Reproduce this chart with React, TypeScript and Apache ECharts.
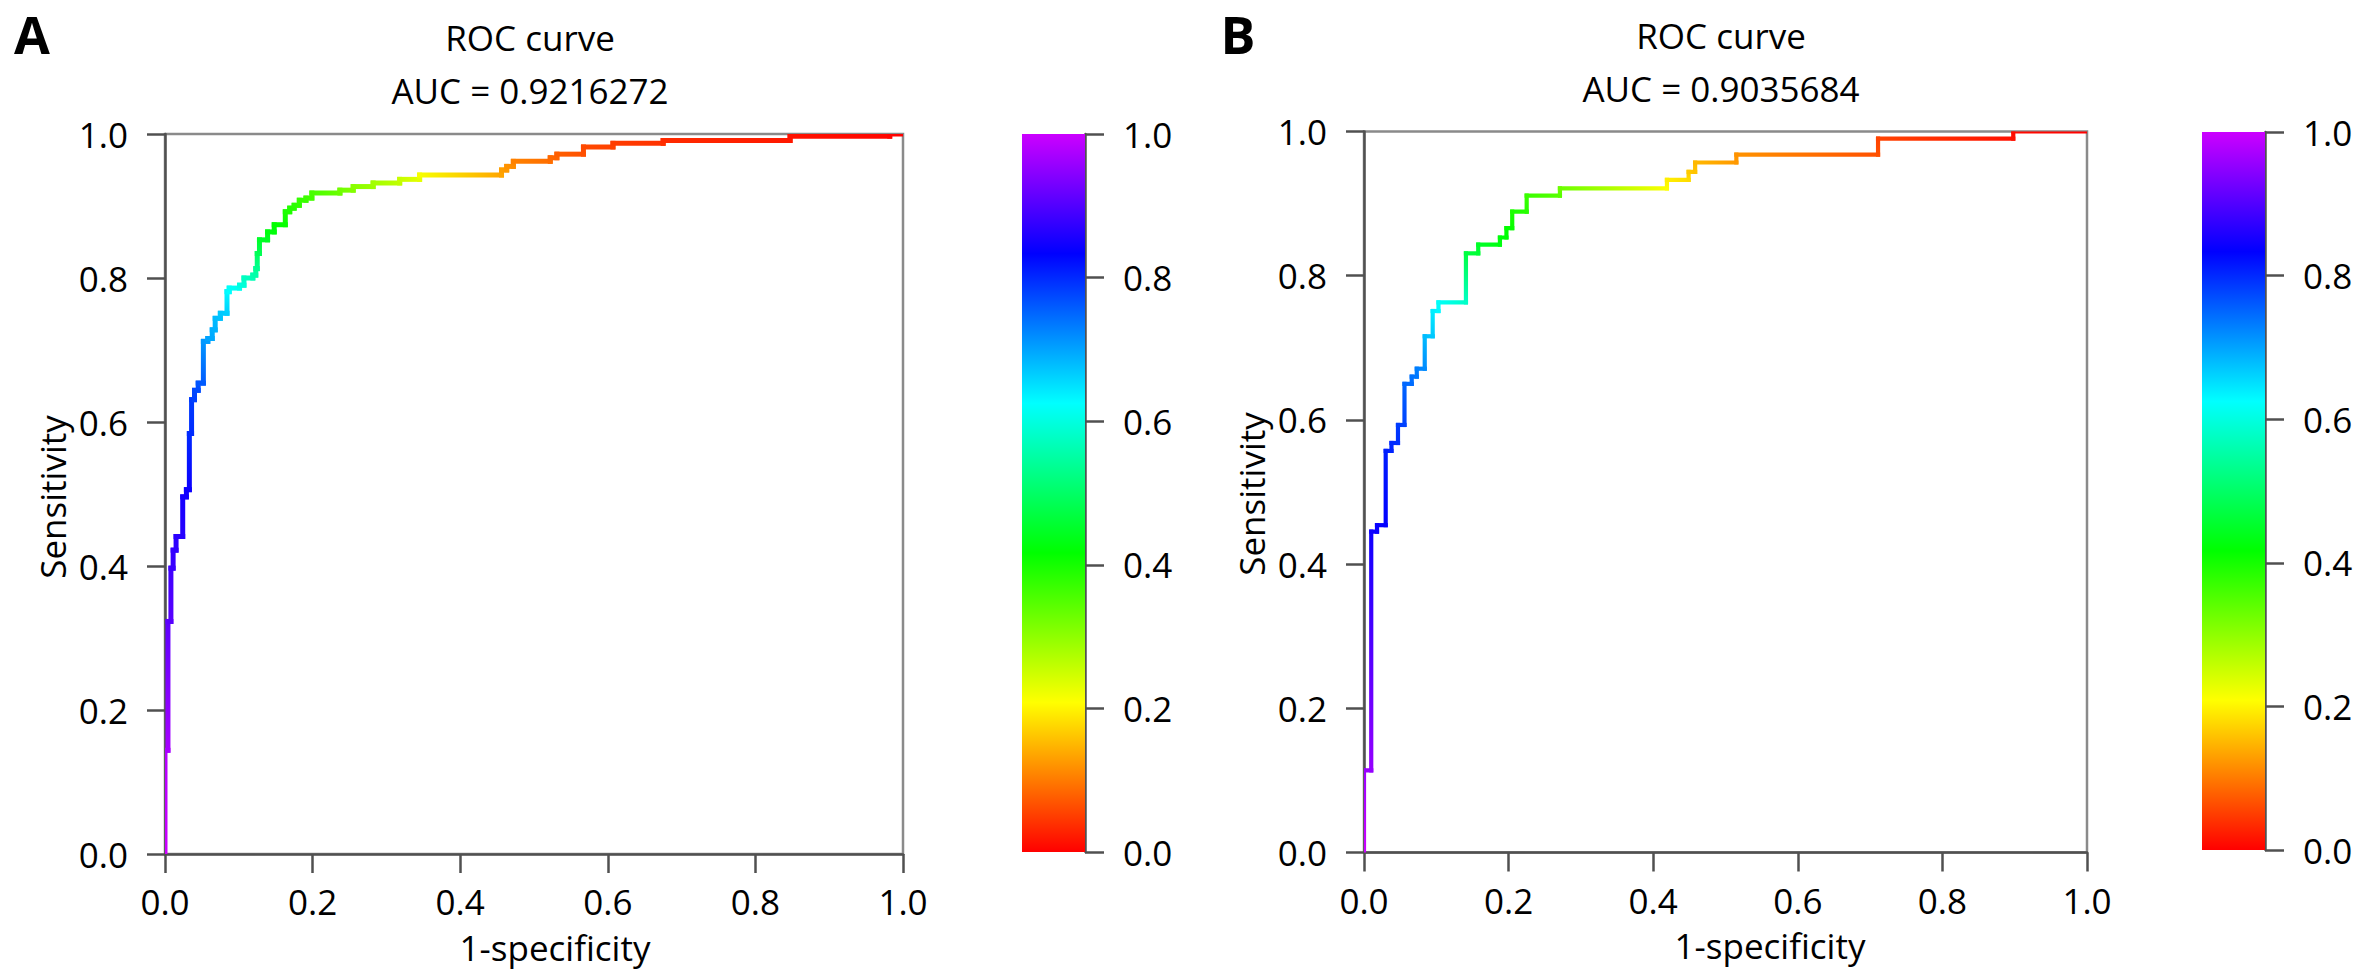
import React, { useEffect, useRef } from "react";
import * as echarts from "echarts";

// ---------- data ----------
const panelLetters = ["A", "B"];
const titleText = "ROC curve";
const aucTexts = ["AUC = 0.9216272", "AUC = 0.9035684"];
const xAxisName = "1-specificity";
const yAxisName = "Sensitivity";

// Panel A: ROC vertices (false positive rate, true positive rate, cutoff)
const fprA = [0, 0, 0.004, 0.004, 0.008, 0.008, 0.011, 0.011, 0.015, 0.015, 0.024, 0.024, 0.029, 0.029, 0.033, 0.033, 0.036, 0.036, 0.040, 0.040, 0.045, 0.045, 0.052, 0.052, 0.058, 0.058, 0.064, 0.064, 0.068, 0.068, 0.075, 0.075, 0.084, 0.084, 0.087, 0.087, 0.101, 0.101, 0.107, 0.107, 0.119, 0.119, 0.123, 0.123, 0.125, 0.125, 0.128, 0.128, 0.139, 0.139, 0.148, 0.148, 0.163, 0.163, 0.169, 0.169, 0.175, 0.175, 0.182, 0.182, 0.191, 0.191, 0.199, 0.199, 0.237, 0.237, 0.255, 0.255, 0.282, 0.282, 0.318, 0.318, 0.345, 0.345, 0.456, 0.456, 0.463, 0.463, 0.472, 0.472, 0.522, 0.522, 0.531, 0.531, 0.567, 0.567, 0.607, 0.607, 0.675, 0.675, 0.847, 0.847, 0.982, 0.982, 1.0];
const tprA = [0, 0.144, 0.144, 0.323, 0.323, 0.397, 0.397, 0.422, 0.422, 0.441, 0.441, 0.496, 0.496, 0.506, 0.506, 0.584, 0.584, 0.631, 0.631, 0.644, 0.644, 0.654, 0.654, 0.712, 0.712, 0.716, 0.716, 0.728, 0.728, 0.744, 0.744, 0.751, 0.751, 0.781, 0.781, 0.786, 0.786, 0.790, 0.790, 0.800, 0.800, 0.804, 0.804, 0.813, 0.813, 0.834, 0.834, 0.853, 0.853, 0.864, 0.864, 0.874, 0.874, 0.892, 0.892, 0.897, 0.897, 0.901, 0.901, 0.908, 0.908, 0.911, 0.911, 0.918, 0.918, 0.922, 0.922, 0.927, 0.927, 0.932, 0.932, 0.937, 0.937, 0.943, 0.943, 0.950, 0.950, 0.955, 0.955, 0.962, 0.962, 0.967, 0.967, 0.972, 0.972, 0.982, 0.982, 0.987, 0.987, 0.991, 0.991, 0.997, 0.997, 1.0, 1.0];
const cutA = [1.0, 0.98, 0.97, 0.91, 0.905, 0.885, 0.88, 0.875, 0.872, 0.868, 0.865, 0.85, 0.848, 0.845, 0.843, 0.80, 0.798, 0.785, 0.78, 0.775, 0.772, 0.765, 0.76, 0.71, 0.705, 0.70, 0.695, 0.69, 0.688, 0.68, 0.675, 0.67, 0.665, 0.63, 0.625, 0.62, 0.61, 0.60, 0.595, 0.575, 0.565, 0.56, 0.555, 0.54, 0.535, 0.49, 0.485, 0.45, 0.445, 0.43, 0.425, 0.415, 0.41, 0.395, 0.392, 0.388, 0.385, 0.382, 0.378, 0.374, 0.37, 0.366, 0.362, 0.358, 0.33, 0.325, 0.31, 0.305, 0.29, 0.285, 0.26, 0.255, 0.23, 0.215, 0.135, 0.13, 0.125, 0.12, 0.115, 0.105, 0.09, 0.085, 0.082, 0.078, 0.066, 0.06, 0.054, 0.05, 0.04, 0.035, 0.02, 0.015, 0.005, 0.003, 0.0];

// Panel B
const fprB = [0, 0, 0.010, 0.010, 0.018, 0.018, 0.030, 0.030, 0.038, 0.038, 0.047, 0.047, 0.056, 0.056, 0.066, 0.066, 0.073, 0.073, 0.084, 0.084, 0.095, 0.095, 0.103, 0.103, 0.141, 0.141, 0.158, 0.158, 0.188, 0.188, 0.197, 0.197, 0.205, 0.205, 0.225, 0.225, 0.271, 0.271, 0.419, 0.419, 0.449, 0.449, 0.458, 0.458, 0.515, 0.515, 0.711, 0.711, 0.898, 0.898, 1.0];
const tprB = [0, 0.114, 0.114, 0.445, 0.445, 0.454, 0.454, 0.557, 0.557, 0.568, 0.568, 0.593, 0.593, 0.650, 0.650, 0.660, 0.660, 0.671, 0.671, 0.716, 0.716, 0.751, 0.751, 0.763, 0.763, 0.831, 0.831, 0.843, 0.843, 0.853, 0.853, 0.866, 0.866, 0.889, 0.889, 0.911, 0.911, 0.921, 0.921, 0.933, 0.933, 0.944, 0.944, 0.957, 0.957, 0.968, 0.968, 0.990, 0.990, 1.0, 1.0];
const cutB = [1.0, 0.96, 0.955, 0.845, 0.842, 0.838, 0.835, 0.81, 0.805, 0.80, 0.795, 0.785, 0.78, 0.75, 0.745, 0.74, 0.735, 0.73, 0.72, 0.68, 0.67, 0.64, 0.63, 0.62, 0.58, 0.47, 0.46, 0.45, 0.43, 0.425, 0.42, 0.415, 0.41, 0.395, 0.385, 0.37, 0.345, 0.33, 0.21, 0.195, 0.18, 0.165, 0.16, 0.15, 0.125, 0.12, 0.065, 0.055, 0.012, 0.008, 0.0];

// ---------- helpers ----------
const FONT = "'Open Sans', 'DejaVu Sans', sans-serif";
const AXIS_COLOR = "#505050";
const FRAME_COLOR = "#8a8a8a";

function cutColor(c: number): string {
  const h = Math.max(0, Math.min(1, c)) * 288;
  const hp = h / 60;
  const x = 1 - Math.abs((hp % 2) - 1);
  let r = 0, g = 0, b = 0;
  if (hp < 1) { r = 1; g = x; }
  else if (hp < 2) { r = x; g = 1; }
  else if (hp < 3) { g = 1; b = x; }
  else if (hp < 4) { g = x; b = 1; }
  else if (hp < 5) { r = x; b = 1; }
  else { r = 1; b = x; }
  return `rgb(${Math.round(r * 255)},${Math.round(g * 255)},${Math.round(b * 255)})`;
}

function segments(f: number[], t: number[], c: number[]) {
  const out: number[][] = [];
  for (let i = 0; i < f.length - 1; i++) out.push([f[i], t[i], f[i + 1], t[i + 1], c[i], c[i + 1]]);
  return out;
}

function rocSeries(idx: number, data: number[][], width: number) {
  return {
    type: "custom",
    xAxisIndex: idx,
    yAxisIndex: idx,
    clip: true,
    silent: true,
    z: 5,
    encode: { x: [0, 2], y: [1, 3] },
    data,
    renderItem: (params: any, api: any) => {
      const p1 = api.coord([api.value(0), api.value(1)]);
      const p2 = api.coord([api.value(2), api.value(3)]);
      const c1 = cutColor(api.value(4));
      const c2 = cutColor(api.value(5));
      return {
        type: "line",
        shape: { x1: p1[0], y1: p1[1], x2: p2[0], y2: p2[1] },
        style: {
          stroke: {
            type: "linear", x: p1[0], y: p1[1], x2: p2[0], y2: p2[1], global: true,
            colorStops: [{ offset: 0, color: c1 }, { offset: 1, color: c2 }],
          },
          lineWidth: width,
          lineCap: "square",
        },
      };
    },
  };
}

const fmt = (v: number) => v.toFixed(1);

function plotAxes(idx: number) {
  const line = { show: true, onZero: false, lineStyle: { color: AXIS_COLOR, width: 2.5 } };
  return {
    x: {
      gridIndex: idx, type: "value", min: 0, max: 1, interval: 0.2,
      axisLine: line,
      axisTick: { show: true, inside: false, length: 19, lineStyle: { color: AXIS_COLOR, width: 2.5 } },
      axisLabel: { fontSize: 35, color: "#000", fontFamily: FONT, margin: 30, formatter: fmt },
      splitLine: { show: false },
    },
    y: {
      gridIndex: idx, type: "value", min: 0, max: 1, interval: 0.2,
      axisLine: line,
      axisTick: { show: true, inside: false, length: 18, lineStyle: { color: AXIS_COLOR, width: 2.5 } },
      axisLabel: { fontSize: 35, color: "#000", fontFamily: FONT, margin: 37, formatter: fmt },
      splitLine: { show: false },
    },
  };
}

function barAxes(idx: number) {
  return {
    x: { gridIndex: idx, type: "category", data: ["cutoff"], show: false },
    y: {
      gridIndex: idx, type: "value", position: "right", min: 0, max: 1, interval: 0.2,
      axisLine: { show: true, lineStyle: { color: AXIS_COLOR, width: 2.5 } },
      axisTick: { show: true, inside: false, length: 19, lineStyle: { color: AXIS_COLOR, width: 2.5 } },
      axisLabel: { fontSize: 35, color: "#000", fontFamily: FONT, margin: 38, formatter: fmt },
      splitLine: { show: false },
    },
  };
}

function colorbarGradient() {
  const stops = [];
  for (let k = 0; k <= 24; k++) {
    const off = k / 24;
    stops.push({ offset: off, color: cutColor(1 - off) });
  }
  return new echarts.graphic.LinearGradient(0, 0, 0, 1, stops);
}

function txt(x: number, y: number, text: string, size: number, extra: any = {}) {
  const { bold, lineHeight, ...rest } = extra;
  return {
    type: "text", x, y, silent: true, ...rest,
    style: {
      text, fill: "#000", fontSize: size, fontFamily: FONT, fontWeight: bold ? "bold" : "normal",
      lineHeight: lineHeight || Math.round(size * 1.2),
      align: "center", verticalAlign: "middle", textAlign: "center", textVerticalAlign: "middle",
    },
  };
}

export default function App() {
  const ref = useRef<HTMLDivElement>(null);
  useEffect(() => {
    if (!ref.current) return;
    const chart = echarts.init(ref.current, null, { renderer: "svg" });
    const a0 = plotAxes(0), a1 = plotAxes(1), b2 = barAxes(2), b3 = barAxes(3);
    const gridStyle = { show: true, borderColor: FRAME_COLOR, borderWidth: 2.5, backgroundColor: "transparent" };
    chart.setOption({
      animation: false,
      backgroundColor: "#ffffff",
      textStyle: { fontFamily: FONT },
      grid: [
        { left: 165, top: 134, width: 738, height: 720, ...gridStyle },
        { left: 1364, top: 131.5, width: 723, height: 721, ...gridStyle },
        { left: 1022, top: 134, width: 63, height: 718, show: false },
        { left: 2202, top: 132, width: 63, height: 718, show: false },
      ],
      xAxis: [a0.x, a1.x, b2.x, b3.x],
      yAxis: [a0.y, a1.y, b2.y, b3.y],
      series: [
        rocSeries(0, segments(fprA, tprA, cutA), 5),
        rocSeries(1, segments(fprB, tprB, cutB), 4.2),
        { type: "bar", xAxisIndex: 2, yAxisIndex: 2, data: [1], barWidth: "100%", silent: true, itemStyle: { color: colorbarGradient() } },
        { type: "bar", xAxisIndex: 3, yAxisIndex: 3, data: [1], barWidth: "100%", silent: true, itemStyle: { color: colorbarGradient() } },
      ],
      graphic: [
        txt(32, 33, panelLetters[0], 52, { bold: true, lineHeight: 40 }),
        txt(1238, 33, panelLetters[1], 52, { bold: true, lineHeight: 40 }),
        txt(530, 37, titleText, 35),
        txt(530, 90, aucTexts[0], 35),
        txt(1721, 35, titleText, 35),
        txt(1721, 88, aucTexts[1], 35),
        txt(555, 947, xAxisName, 35),
        txt(1770, 945, xAxisName, 35),
        txt(52, 497, yAxisName, 35, { rotation: Math.PI / 2 }),
        txt(1251, 494, yAxisName, 35, { rotation: Math.PI / 2 }),
      ],
    });
    return () => chart.dispose();
  }, []);
  return <div ref={ref} style={{ position: "absolute", left: 0, top: 0, width: 2362, height: 972 }} />;
}
